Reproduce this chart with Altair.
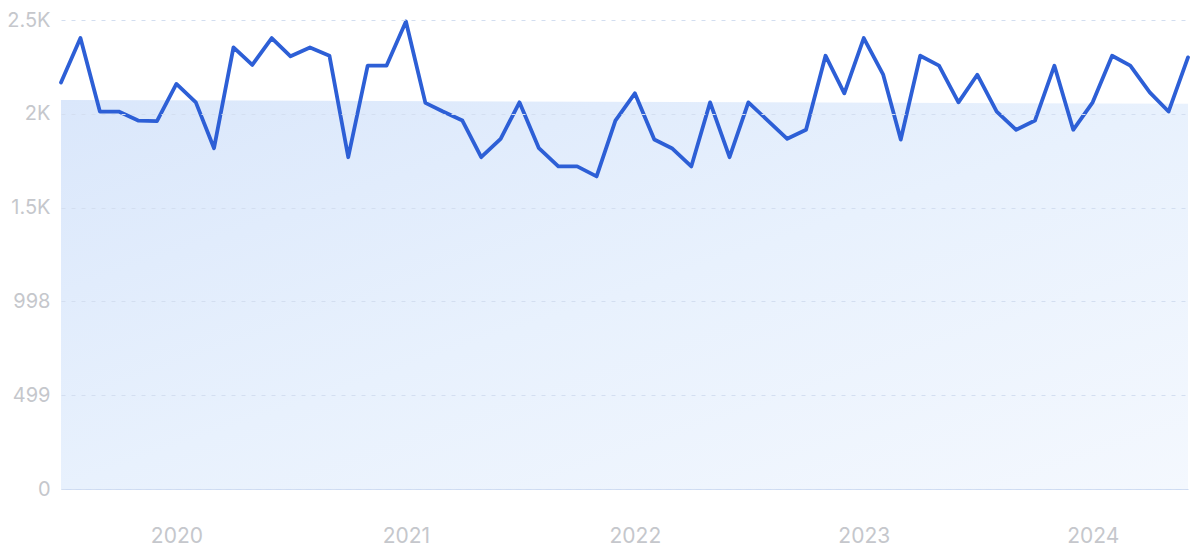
import altair as alt
import pandas as pd

# Monthly values, Jul 2019 .. Jun 2024
months = pd.date_range("2019-07-01", "2024-06-01", freq="MS")
values = [
    2163, 2399, 2008, 2008, 1960, 1957, 2155, 2057, 1813, 2349,
    2256, 2399, 2302, 2349, 2305, 1765, 2252, 2252, 2487, 2054,
    2008, 1960, 1765, 1863, 2057, 1813, 1716, 1716, 1663, 1960,
    2105, 1859, 1813, 1716, 2057, 1765, 2057, 1960, 1863, 1911,
    2305, 2105, 2399, 2204, 1859, 2305, 2252, 2057, 2204, 2008,
    1911, 1960, 2252, 1911, 2057, 2305, 2252, 2110, 2008, 2296,
]

# Shaded band (start and end)
band_dates = [months[0], months[-1]]
band_values = [2070, 2049]

# Axis ticks
y_ticks = [0, 499, 998, 1497, 1996, 2495]
x_years = [2020, 2021, 2022, 2023, 2024]

df = pd.DataFrame({"date": months, "value": values})
band = pd.DataFrame({"date": band_dates, "value": band_values})

FONT = "Inter"
LABEL_COLOR = "#c5c7cc"

x_enc = alt.X(
    "date:T",
    title=None,
    scale=alt.Scale(domain=[months[0].isoformat(), months[-1].isoformat()], nice=False),
    axis=alt.Axis(
        values=[alt.DateTime(year=y, month=1, date=1) for y in x_years],
        format="%Y",
        grid=False,
        ticks=False,
        domain=True,
        domainColor="#cddbf3",
        domainWidth=1,
        labelFont=FONT,
        labelFontSize=21,
        labelColor=LABEL_COLOR,
        labelPadding=36,
    ),
)

y_scale = alt.Scale(domain=[0, 2495], nice=False)

area = alt.Chart(band).mark_area(
    color=alt.LinearGradient(
        gradient="linear",
        stops=[
            alt.GradientStop(color="#dae7fb", offset=0),
            alt.GradientStop(color="#e8f1fd", offset=0.5),
            alt.GradientStop(color="#f4f8fe", offset=1),
        ],
        x1=0, y1=0, x2=1, y2=1,
    ),
).encode(
    x=x_enc,
    y=alt.Y(
        "value:Q",
        title=None,
        scale=y_scale,
        axis=alt.Axis(
            values=y_ticks,
            labelExpr="datum.value >= 1000 ? format(datum.value / 1000, '.1~f') + 'K' : format(datum.value, 'd')",
            grid=True,
            gridColor="#d3def0",
            gridDash=[4, 6],
            gridWidth=1,
            domain=False,
            ticks=False,
            labelFont=FONT,
            labelFontSize=20,
            labelColor=LABEL_COLOR,
            labelPadding=11,
            zindex=1,
        ),
    ),
)

line = alt.Chart(df).mark_line(
    color="#2d5fd6", strokeWidth=3.8, strokeJoin="round", strokeCap="round"
).encode(
    x=alt.X("date:T"),
    y=alt.Y("value:Q", scale=y_scale),
)

chart = alt.layer(area, line).properties(
    width=1127,
    height=469,
    autosize=alt.AutoSizeParams(type="none"),
    padding={"left": 53, "top": 12, "right": 4, "bottom": 62},
).configure_view(stroke=None)

chart.save("out.html", embed_options={"renderer": "svg", "actions": False})
